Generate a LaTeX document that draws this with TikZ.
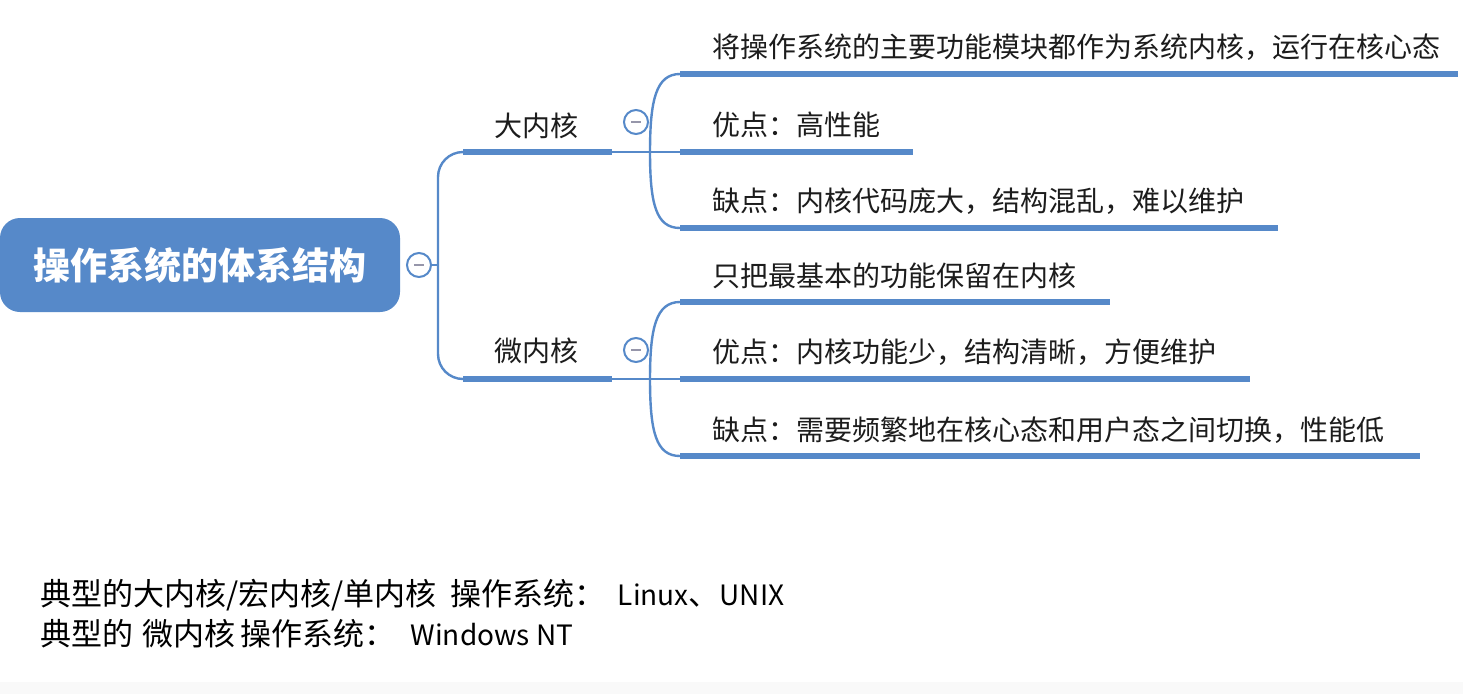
\documentclass[tikz,border=0pt]{standalone}
\usepackage{fontspec}
\setmainfont{Noto Sans CJK SC}
\definecolor{mblue}{RGB}{86,137,201}
\definecolor{txt}{RGB}{28,28,28}
\definecolor{minus}{RGB}{150,150,170}
\newcommand{\latn}[1]{{\fontsize{28}{34}\selectfont #1}}
\begin{document}
\begin{tikzpicture}[x=1pt,y=-1pt,
  conn/.style={draw=mblue,line width=2.4pt},
  uline/.style={draw=mblue,line width=6pt},
  leaf/.style={anchor=west,inner sep=0pt,text=txt,font=\fontsize{28}{34}\selectfont},
  blabel/.style={inner sep=0pt,text=txt,font=\fontsize{28}{34}\selectfont},
  fold/.style={circle,draw=mblue,line width=2pt,fill=white,minimum size=24pt,inner sep=0pt},
  note/.style={anchor=west,inner sep=0pt,text=black,font=\fontsize{31}{37}\selectfont},
  rootbox/.style={rectangle,rounded corners=20pt,fill=mblue,minimum width=400pt,minimum height=94pt,
    text=white,font=\fontsize{37}{43}\selectfont\bfseries}]
\useasboundingbox (0,0) rectangle (1463,694);
\fill[white] (0,0) rectangle (1463,694);
\fill[gray!5] (0,682) rectangle (1463,694);

% root
\node[rootbox] (root) at (200,265) {操作系统的体系结构};
\node[fold] (rc) at (419,265) {};
\draw[minus,line width=2pt] ([xshift=-5pt]rc.center) -- ([xshift=5pt]rc.center);

% trunk
\coordinate (tr) at (438,265);
\coordinate (b1a) at (463,152);
\coordinate (b2a) at (463,379);
\draw[conn] (rc.east) -- (tr);
\draw[conn,rounded corners=25pt] (b1a) -- (438,152) -- (438,379) -- (b2a);

% branch 1
\node[blabel] (b1) at (536,126) {大内核};
\coordinate (b1b) at (612,152);
\coordinate (h1) at (650,152);
\draw[uline] (b1a) -- (b1b);
\draw[conn] (b1b) -- (h1);
\node[fold] (c1) at (636,122) {};
\draw[minus,line width=2pt] ([xshift=-5pt]c1.center) -- ([xshift=5pt]c1.center);

\coordinate (l1a) at (680,74);   \coordinate (l1b) at (1458,74);
\coordinate (l2a) at (680,152);  \coordinate (l2b) at (913,152);
\coordinate (l3a) at (680,228);  \coordinate (l3b) at (1278,228);
\draw[conn] (l1a) .. controls (656,74) and (650,100) .. (h1)
            .. controls (650,204) and (656,228) .. (l3a);
\draw[conn] (h1) -- (l2a);
\draw[uline] (l1a) -- (l1b);
\draw[uline] (l2a) -- (l2b);
\draw[uline] (l3a) -- (l3b);
\node[leaf] (t1) at (712,47) {将操作系统的主要功能模块都作为系统内核，运行在核心态};
\node[leaf] (t2) at (712,125) {优点：高性能};
\node[leaf] (t3) at (712,201) {缺点：内核代码庞大，结构混乱，难以维护};

% branch 2
\node[blabel] (b2) at (536,351) {微内核};
\coordinate (b2b) at (612,379);
\coordinate (h2) at (650,379);
\draw[uline] (b2a) -- (b2b);
\draw[conn] (b2b) -- (h2);
\node[fold] (c2) at (636,350) {};
\draw[minus,line width=2pt] ([xshift=-5pt]c2.center) -- ([xshift=5pt]c2.center);

\coordinate (m1a) at (680,302);  \coordinate (m1b) at (1110,302);
\coordinate (m2a) at (680,379);  \coordinate (m2b) at (1250,379);
\coordinate (m3a) at (680,456);  \coordinate (m3b) at (1420,456);
\draw[conn] (m1a) .. controls (656,302) and (650,328) .. (h2)
            .. controls (650,432) and (656,456) .. (m3a);
\draw[conn] (h2) -- (m2a);
\draw[uline] (m1a) -- (m1b);
\draw[uline] (m2a) -- (m2b);
\draw[uline] (m3a) -- (m3b);
\node[leaf] (u1) at (712,276) {只把最基本的功能保留在内核};
\node[leaf] (u2) at (712,352) {优点：内核功能少，结构清晰，方便维护};
\node[leaf] (u3) at (712,430) {缺点：需要频繁地在核心态和用户态之间切换，性能低};

% notes
\node[note] (n1) at (40,595) {典型的大内核/宏内核/单内核\hspace{0.45em}操作系统：\hspace{0.4em}\latn{Linux}、\latn{UNIX}};
\node[note] (n2) at (40,634) {典型的\hspace{0.3em}微内核\hspace{0.15em}操作系统：\hspace{0.5em}\latn{Windows NT}};
\end{tikzpicture}
\end{document}
